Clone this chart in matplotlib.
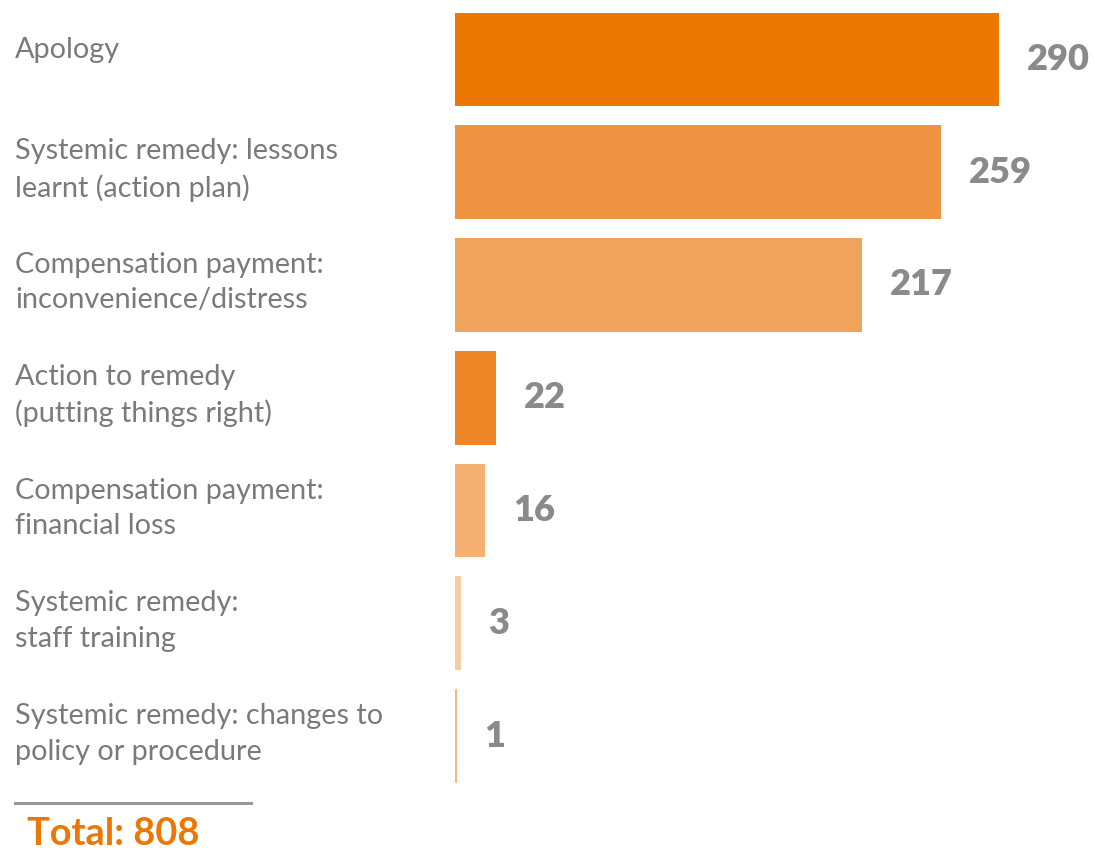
import matplotlib.pyplot as plt
import matplotlib.transforms as mtransforms

# Data
labels = [
    "Apology",
    "Systemic remedy: lessons\nlearnt (action plan)",
    "Compensation payment:\ninconvenience/distress",
    "Action to remedy\n(putting things right)",
    "Compensation payment:\nfinancial loss",
    "Systemic remedy:\nstaff training",
    "Systemic remedy: changes to\npolicy or procedure",
]
values = [290, 259, 217, 22, 16, 3, 1]
colors = ["#EC7703", "#F09340", "#F2A35B", "#EE8628", "#F6B172", "#FACBA0", "#F6B97E"]
total = sum(values)

fig = plt.figure(figsize=(10.95, 8.6), dpi=100)
ax = fig.add_axes([455 / 1095, 0, 640 / 1095, 1])

ypos = list(range(len(values)))
bars = ax.barh(ypos, values, height=0.83, color=colors)

ax.set_xlim(0, 341)
ax.set_ylim(7.099, -0.527)
ax.axis("off")

# value labels
for bar, value in zip(bars, values):
    ax.annotate(
        str(value),
        (bar.get_width(), bar.get_y() + bar.get_height() / 2),
        xytext=(20, 0),
        textcoords="offset points",
        va="center",
        ha="left",
        fontsize=26,
        fontweight="heavy",
        family=["Lato", "DejaVu Sans"],
        color="#8A8A8A",
    )

# category labels on the left (single-line one sits a bit higher)
trans = mtransforms.blended_transform_factory(fig.transFigure, ax.transData)
for y, label in zip(ypos, labels):
    shift = -0.08 if "\n" not in label else -0.02
    ax.text(
        15 / 1095,
        y + shift,
        label,
        transform=trans,
        ha="left",
        va="center",
        fontsize=20.8,
        family=["Lato", "DejaVu Sans"],
        color="#7A7A7A",
        linespacing=1.45,
    )

# total
fig.add_artist(plt.Line2D([15 / 1095, 251 / 1095], [1 - 803 / 860, 1 - 803 / 860],
                          color="#999999", linewidth=2.2))
fig.text(27 / 1095, 1 - 834 / 860, f"Total: {total}", ha="left", va="center",
         fontsize=27.4, fontweight="bold", family=["Lato", "DejaVu Sans"], color="#EC7703")

plt.savefig("out.png", dpi=100)
